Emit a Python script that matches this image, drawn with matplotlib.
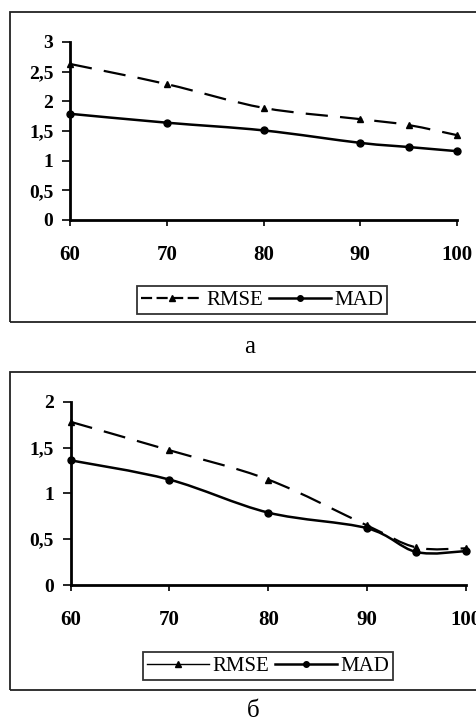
import matplotlib
matplotlib.use("Agg")
import matplotlib.pyplot as plt
from matplotlib.path import Path
from matplotlib.patches import PathPatch, Rectangle
from matplotlib.lines import Line2D
from matplotlib.ticker import FuncFormatter

plt.rcParams['font.family'] = ['Liberation Serif', 'DejaVu Serif']

# data
x_pct = [60, 70, 80, 90, 95, 100]
rmse_a = [2.63, 2.29, 1.89, 1.70, 1.60, 1.43]
mad_a = [1.79, 1.64, 1.51, 1.30, 1.23, 1.16]
rmse_b = [1.78, 1.47, 1.15, 0.65, 0.41, 0.40]
mad_b = [1.36, 1.15, 0.79, 0.62, 0.36, 0.37]
xticks = [60, 70, 80, 90, 100]
yticks_a = [0, 0.5, 1, 1.5, 2, 2.5, 3]
yticks_b = [0, 0.5, 1, 1.5, 2]
legend_labels = ['RMSE', 'MAD']
panel_labels = ['а', 'б']

W, H = 477, 720


def smooth_path(xs, ys, t=1/6):
    # Excel-style smoothed line: cubic bezier segments through the points
    pts = list(zip(xs, ys))
    n = len(pts)
    verts = [pts[0]]
    codes = [Path.MOVETO]
    for i in range(n - 1):
        p0 = pts[i - 1] if i > 0 else pts[i]
        p1 = pts[i]
        p2 = pts[i + 1]
        p3 = pts[i + 2] if i + 2 < n else pts[i + 1]
        c1 = (p1[0] + (p2[0] - p0[0]) * t, p1[1] + (p2[1] - p0[1]) * t)
        c2 = (p2[0] - (p3[0] - p1[0]) * t, p2[1] - (p3[1] - p1[1]) * t)
        verts += [c1, c2, p2]
        codes += [Path.CURVE4] * 3
    return Path(verts, codes)


def comma(v, pos):
    s = ('%g' % v)
    return s.replace('.', ',')


def fr(x0, y0, x1, y1):
    return [x0 / W, 1 - y1 / H, (x1 - x0) / W, (y1 - y0) / H]


fig = plt.figure(figsize=(W / 100, H / 100), dpi=100)

panels = [
    (fr(70, 42, 457, 220), rmse_a, mad_a, yticks_a, 3, (10, 12, 500, 322), (262, 300), (250, 347)),
    (fr(70.7, 401.7, 465.7, 585), rmse_b, mad_b, yticks_b, 2, (10, 372, 500, 690), (268, 666), (253, 711)),
]

for i, (rect, rm, md, yt, ymax, frame, legpos, labpos) in enumerate(panels):
    fx0, fy0, fx1, fy1 = frame
    fig.patches.append(Rectangle((fx0 / W, 1 - fy1 / H), (fx1 - fx0) / W, (fy1 - fy0) / H,
                                 transform=fig.transFigure, fill=False,
                                 edgecolor='#222222', linewidth=1.3))
    ax = fig.add_axes(rect)
    ax.set_xlim(60, 100)
    ax.set_ylim(0, ymax)
    for s in ['top', 'right']:
        ax.spines[s].set_visible(False)
    for s in ['left', 'bottom']:
        ax.spines[s].set_linewidth(2)
    ax.set_xticks(xticks)
    ax.set_yticks(yt)
    ax.yaxis.set_major_formatter(FuncFormatter(comma))
    ax.tick_params(axis='x', length=4, width=1.2, pad=14, labelsize=15)
    ax.tick_params(axis='y', length=6, width=1.2, pad=6, labelsize=14)
    for lb in ax.get_xticklabels() + ax.get_yticklabels():
        lb.set_fontweight('bold')

    ax.add_patch(PathPatch(smooth_path(x_pct, rm), fill=False, edgecolor='black',
                           linewidth=1.6, linestyle=(0, (10, 5.5)), clip_on=False))
    ax.add_patch(PathPatch(smooth_path(x_pct, md), fill=False, edgecolor='black',
                           linewidth=1.8, clip_on=False))
    ax.plot(x_pct, rm, linestyle='none', marker='^', markersize=5, color='black', clip_on=False)
    ax.plot(x_pct, md, linestyle='none', marker='o', markersize=5, color='black', clip_on=False)

    handles = [Line2D([], [], color='black', linestyle=(0, (5, 2)) if i == 0 else '-',
                      linewidth=1.6 if i == 0 else 1.0, marker='^', markersize=5),
               Line2D([], [], color='black', linestyle='-', linewidth=1.8, marker='o', markersize=4)]
    leg = ax.legend(handles, legend_labels, loc='center',
                    bbox_to_anchor=(legpos[0] / W, 1 - legpos[1] / H),
                    bbox_transform=fig.transFigure, ncol=2, frameon=True, fancybox=False,
                    edgecolor='black', fontsize=15, handlelength=3.0, handletextpad=0.15,
                    columnspacing=0.25, borderpad=0.2, borderaxespad=0)
    leg.get_frame().set_linewidth(1.3)

    fig.text(labpos[0] / W, 1 - labpos[1] / H, panel_labels[i], ha='center', va='center',
             fontsize=18)

fig.savefig('out.png', dpi=100)
